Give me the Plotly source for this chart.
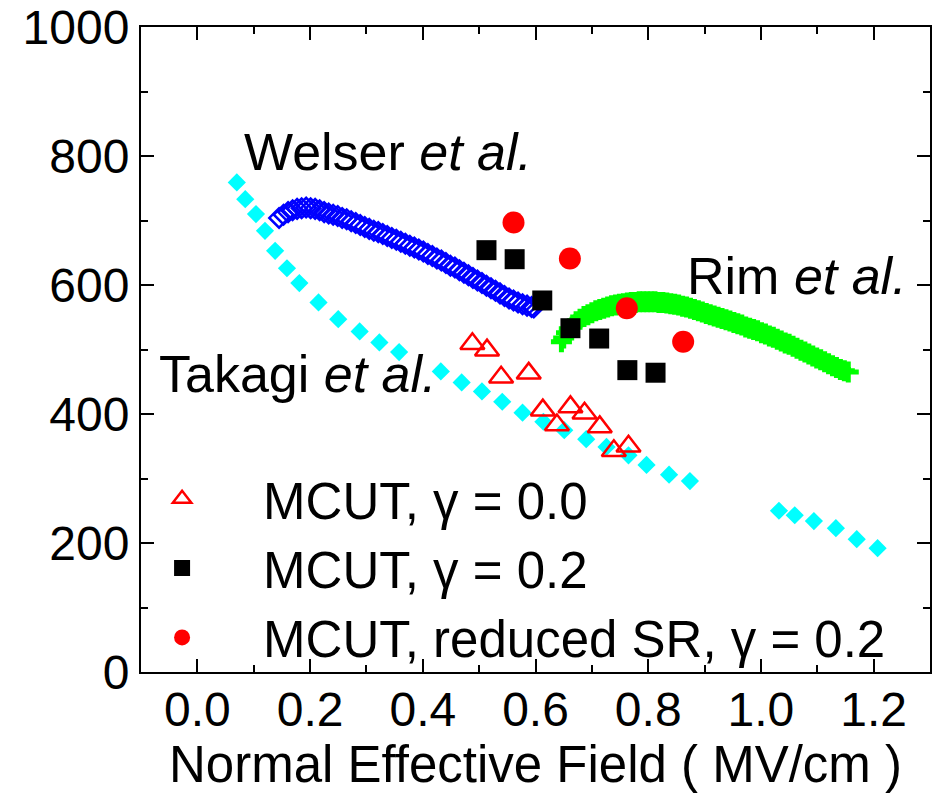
import plotly.graph_objects as go

# Takagi et al. (filled cyan diamonds)
takagi_x = [0.070, 0.085, 0.104, 0.120, 0.138, 0.159, 0.181, 0.215, 0.250, 0.288, 0.323, 0.358,
            0.432, 0.469, 0.505, 0.541, 0.577, 0.614, 0.651, 0.690, 0.726, 0.765, 0.797, 0.837, 0.874,
            1.032, 1.060, 1.094, 1.133, 1.170, 1.207]
takagi_y = [759, 733, 710, 684, 653, 626, 603, 573, 547, 528, 511, 496,
            466, 449, 435, 419, 402, 388, 375, 361, 349, 336, 321, 306, 296,
            250, 243, 234, 223, 206, 192]

# Welser et al. (open blue diamonds)
welser_x = [0.145, 0.153, 0.161, 0.169, 0.177, 0.185, 0.193, 0.201, 0.209, 0.217, 0.225, 0.233,
            0.241, 0.249, 0.257, 0.265, 0.273, 0.281, 0.289, 0.297, 0.305, 0.313, 0.321, 0.329,
            0.337, 0.345, 0.353, 0.361, 0.369, 0.377, 0.385, 0.393, 0.401, 0.409, 0.417, 0.425,
            0.433, 0.441, 0.449, 0.457, 0.465, 0.473, 0.481, 0.489, 0.497, 0.505, 0.513, 0.521,
            0.529, 0.537, 0.545, 0.553, 0.561, 0.569, 0.577, 0.585, 0.593, 0.597]
welser_y = [704, 709, 713, 716, 718, 719, 720, 719, 718, 716, 713, 711,
            709, 707, 704, 702, 699, 696, 693, 690, 687, 684, 682, 679,
            676, 673, 670, 667, 664, 661, 658, 655, 652, 648, 645, 641,
            638, 634, 630, 627, 623, 619, 615, 611, 607, 603, 599, 595,
            591, 587, 583, 579, 576, 573, 570, 568, 566, 565]

# Rim et al. (green crosses)
rim_x = [0.646, 0.650, 0.655, 0.660, 0.666, 0.672, 0.679, 0.686, 0.693, 0.700, 0.707, 0.714,
         0.721, 0.728, 0.735, 0.742, 0.749, 0.756, 0.763, 0.770, 0.777, 0.784, 0.791, 0.798,
         0.805, 0.812, 0.819, 0.826, 0.833, 0.840, 0.847, 0.854, 0.861, 0.868, 0.875, 0.882,
         0.889, 0.896, 0.903, 0.910, 0.917, 0.924, 0.931, 0.938, 0.945, 0.952, 0.959, 0.966,
         0.973, 0.980, 0.987, 0.994, 1.001, 1.008, 1.015, 1.022, 1.029, 1.036, 1.043, 1.050,
         1.057, 1.064, 1.071, 1.078, 1.085, 1.092, 1.099, 1.106, 1.113, 1.120, 1.127, 1.134,
         1.141, 1.148, 1.155]
rim_y = [512, 518, 526, 532, 538, 543, 547, 551, 554, 557, 560, 562,
         564, 566, 568, 569, 570, 571, 572, 573, 573, 574, 574, 574,
         574, 574, 573, 573, 572, 571, 570, 569, 567, 566, 564, 562,
         560, 558, 556, 554, 552, 550, 548, 546, 544, 542, 540, 538,
         535, 533, 531, 529, 526, 524, 521, 519, 516, 513, 510, 508,
         505, 502, 499, 496, 493, 490, 487, 484, 481, 478, 475, 472,
         469, 467, 465]

# MCUT, gamma = 0.0
g00_x = [0.488, 0.514, 0.539, 0.588, 0.613, 0.638, 0.662, 0.687, 0.714, 0.739, 0.765]
g00_y = [509, 499, 457, 463, 406, 383, 411, 401, 380, 343, 350]

# MCUT, gamma = 0.2
g02_x = [0.513, 0.563, 0.612, 0.662, 0.713, 0.763, 0.813]
g02_y = [654, 640, 576, 533, 517, 468, 464]

# MCUT, reduced SR, gamma = 0.2
sr_x = [0.561, 0.661, 0.762, 0.862]
sr_y = [697, 641, 564, 512]

FONT = "Liberation Sans, Arial, sans-serif"

fig = go.Figure()
fig.add_trace(go.Scatter(x=takagi_x, y=takagi_y, mode="markers", showlegend=False,
                         marker=dict(symbol="diamond", size=14, color="#00FFFF")))
fig.add_trace(go.Scatter(x=welser_x, y=welser_y, mode="markers", showlegend=False,
                         marker=dict(symbol="diamond-open", size=15, color="#0000FF",
                                     line=dict(width=2.5, color="#0000FF"))))
fig.add_trace(go.Scatter(x=rim_x, y=rim_y, mode="markers", showlegend=False,
                         marker=dict(symbol="cross-thin", size=15, color="#00FF00",
                                     line=dict(width=5, color="#00FF00"))))
fig.add_trace(go.Scatter(x=g00_x, y=g00_y, mode="markers", name="MCUT, γ = 0.0",
                         marker=dict(symbol="triangle-up-open", size=21, color="#FF0000",
                                     line=dict(width=2.5, color="#FF0000"))))
fig.add_trace(go.Scatter(x=g02_x, y=g02_y, mode="markers", name="MCUT, γ = 0.2",
                         marker=dict(symbol="square", size=20, color="#000000")))
fig.add_trace(go.Scatter(x=sr_x, y=sr_y, mode="markers", name="MCUT, reduced SR, γ = 0.2",
                         marker=dict(symbol="circle", size=22, color="#FF0000")))

labels = [("Welser <i>et al.</i>", 0.080, 806),
          ("Rim <i>et al.</i>", 0.866, 614),
          ("Takagi <i>et al.</i>", -0.071, 462)]
for text, ax, ay in labels:
    fig.add_annotation(x=ax, y=ay, xref="x", yref="y", text=text, showarrow=False,
                       xanchor="left", yanchor="middle",
                       font=dict(family=FONT, size=52, color="black"))

axis_common = dict(
    showgrid=False, zeroline=False, showline=True, linecolor="black", linewidth=2,
    mirror="ticks", ticks="inside", ticklen=13, tickwidth=2, tickcolor="black",
    tickfont=dict(family=FONT, size=48, color="black"),
)

fig.update_xaxes(range=[-0.1, 1.3], tick0=0, dtick=0.2, tickformat=".1f",
                 ticklabelstandoff=-6,
                 minor=dict(dtick=0.1, ticks="inside", ticklen=7, tickwidth=2,
                            tickcolor="black", showgrid=False),
                 title=dict(text="Normal Effective Field ( MV/cm )",
                            font=dict(family=FONT, size=51, color="black"), standoff=10),
                 **axis_common)
fig.update_yaxes(range=[0, 1000], tick0=0, dtick=200,
                 minor=dict(dtick=100, ticks="inside", ticklen=7, tickwidth=2,
                            tickcolor="black", showgrid=False),
                 **axis_common)

fig.update_layout(
    width=932, height=793,
    margin=dict(l=141, r=0, t=27, b=121),
    paper_bgcolor="white", plot_bgcolor="white",
    font=dict(family=FONT, size=48, color="black"),
    legend=dict(x=-0.0506, y=0.33, xanchor="left", yanchor="top",
                bgcolor="rgba(0,0,0,0)", itemwidth=152,
                font=dict(family=FONT, size=51, color="black")),
)

fig.write_html("out.html")
